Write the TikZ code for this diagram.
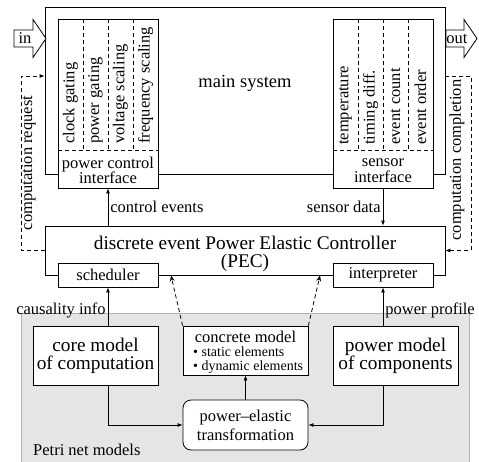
\documentclass[tikz,border=0pt]{standalone}
\usepackage{fontspec}
\setmainfont{Liberation Serif}
\usetikzlibrary{shapes,arrows,arrows.meta,positioning,calc}

\newcommand{\smallsz}{\fontsize{16.5pt}{19pt}\selectfont}
\newcommand{\tightsz}{\fontsize{16.5pt}{15.5pt}\selectfont}
\newcommand{\bigsz}{\fontsize{19.3pt}{18pt}\selectfont}
\newcommand{\mainsz}{\fontsize{18.5pt}{20pt}\selectfont}
\newcommand{\tinysz}{\fontsize{14pt}{13.5pt}\selectfont}

\begin{document}
\begin{tikzpicture}[
    x=1pt, y=-1pt,
    box/.style={rectangle, draw=black, fill=white, line width=0.8pt, inner sep=0pt},
    iface/.style={box, minimum width=100pt, minimum height=169pt},
    model/.style={box, minimum width=125pt, minimum height=59pt, font=\bigsz, align=center},
    coltext/.style={rotate=90, anchor=west, font=\smallsz, inner sep=2pt},
    lbl/.style={font=\smallsz, inner sep=2pt},
    line/.style={draw, line width=0.8pt, -{Latex[length=5pt,width=4pt]}},
    ctrl/.style={line, dash pattern=on 4pt off 3pt},
    hint/.style={draw, line width=0.8pt, dash pattern=on 4pt off 3pt, -{Stealth[open,length=6pt,width=5pt]}},
    divider/.style={draw, line width=0.8pt, dash pattern=on 4pt off 3pt}
  ]
    \useasboundingbox (0,0) rectangle (479,461);

    % Petri net models
    \filldraw[fill=gray!20, draw=gray!60, line width=0.8pt] (21,313) rectangle (469,475);
    \node[lbl, anchor=west] (petri) at (31,450) {Petri net models};

    % main system
    \node[box, minimum width=400pt, minimum height=167pt] (mainsys) at (245,90.5) {};
    \node[font=\mainsz] (maintext) at (245,83) {main system};

    \draw[fill=white, line width=0.8pt] (14,30) -- (33,30) -- (33,19.5) -- (46,38.5) -- (33,57.5) -- (33,47) -- (14,47) -- cycle;
    \node[lbl] (in) at (25,38.5) {in};
    \draw[fill=white, line width=0.8pt] (446,30) -- (464,30) -- (464,19.5) -- (477,38.5) -- (464,57.5) -- (464,47) -- (446,47) -- cycle;
    \node[lbl] (out) at (457,38.5) {out};

    % interfaces
    \node[iface] (pci) at (108,103.5) {};
    \node[iface] (sens) at (383,103.5) {};
    \foreach \x in {0,275} {
      \draw[divider] (58+\x,150) -- (158+\x,150);
      \foreach \c in {83,108,133}
        \draw[divider] (\c+\x,19) -- (\c+\x,150);
    }
    \foreach \t [count=\i] in {clock gating, power gating, voltage scaling, frequency scaling}
      \node[coltext] (pc\i) at (45.5+25*\i,146) {\t};
    \foreach \t [count=\i] in {temperature, timing diff., event count, event order}
      \node[coltext] (sn\i) at (320.5+25*\i,147) {\t};
    \node[font=\tightsz, align=center] (pcitext) at (108,170.5) {power control\\interface};
    \node[font=\tightsz, align=center] (senstext) at (383,170.5) {sensor\\interface};

    % controller
    \node[box, minimum width=400pt, minimum height=49pt] (pec) at (245,250.5) {};
    \node[font=\bigsz, align=center] (pectext) at (245,254) {discrete event Power Elastic Controller\\(PEC)};
    \node[box, minimum width=100pt, minimum height=24pt, font=\smallsz] (sched) at (108,275) {scheduler};
    \node[box, minimum width=100pt, minimum height=24pt, font=\smallsz] (interp) at (383,275) {interpreter};

    % models
    \node[model] (core) at (95.5,355.5) {core model\\of computation};
    \node[model] (power) at (395.5,355.5) {power model\\of components};
    \node[box, minimum width=125pt, minimum height=49pt] (concrete) at (245.5,350.5) {};
    \node[font=\smallsz] (concretetitle) at (245.5,337) {concrete model};
    \node[font=\tinysz, align=left, anchor=west, inner sep=0pt] (concretelist) at (193,360) {\textbullet\ static elements\\\textbullet\ dynamic elements};
    \node[box, rounded corners=8pt, minimum width=125pt, minimum height=50pt, font=\smallsz, align=center] (trans) at (245.5,425) {power--elastic\\transformation};

    % connectors
    \path[line] (pci.south |- pec.north) -- node[lbl, right] {control events} (pci.south);
    \path[line] (sens.south) -- node[lbl, left] {sensor data} (sens.south |- pec.north);
    \path[line] (sched.south |- core.north) -- node[lbl, left, pos=0.4] {causality info} (sched.south);
    \path[line] (interp.south |- power.north) -- node[lbl, right, pos=0.4] {power profile} (interp.south);
    \path[line] (sched.south |- core.south) |- (trans.west);
    \path[line] (interp.south |- power.south) |- (trans.east);
    \path[line] (trans.north) -- (concrete.south);
    \path[hint] (concrete.north west) -- ($(pec.south)+(-74,0)$);
    \path[hint] (concrete.north east) -- ($(pec.south)+(75,0)$);

    \coordinate (reqtop) at (21,76);
    \coordinate (donetop) at (471,76);
    \path[ctrl] (pec.west) -| (reqtop) -- (mainsys.west |- reqtop);
    \path[ctrl] (mainsys.east |- donetop) -- (donetop) |- (pec.east);
    \node[lbl, rotate=90] (request) at (28.5,163) {computation request};
    \node[lbl, rotate=90] (completion) at (457,160) {computation completion};
\end{tikzpicture}
\end{document}
